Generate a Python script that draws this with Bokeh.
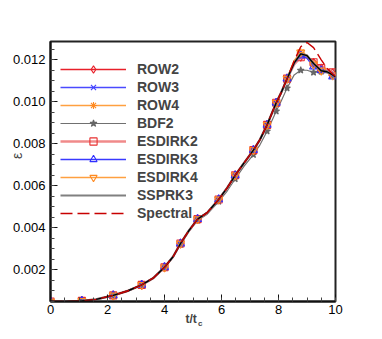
from bokeh.plotting import figure
from bokeh.models import Range1d, SingleIntervalTicker, Legend, LegendItem, Title, NumeralTickFormatter
from bokeh.embed import file_html
from bokeh.resources import INLINE

# ---------------- data ----------------
t = [0.0, 0.5, 1.1, 1.6, 2.2, 2.7, 3.2, 3.6, 4.0, 4.3, 4.56, 4.85, 5.16, 5.5, 5.9, 6.2,
     6.48, 6.8, 7.12, 7.35, 7.6, 7.92, 8.1, 8.3, 8.55, 8.78, 9.0, 9.23, 9.5, 9.7, 9.9, 10.0]

common = [0.00049, 0.00049, 0.00052, 0.00059, 0.00078, 0.00099, 0.00128, 0.00160,
          0.00212, 0.00262, 0.00325, 0.00385, 0.00441, 0.00472, 0.00535, 0.00590,
          0.00650, 0.00710, 0.00770, 0.00820, 0.00890, 0.00995, 0.01045, 0.01110]

row2 = common + [0.01180, 0.01215, 0.01212, 0.01185, 0.01158, 0.01152, 0.01135, 0.01120]
row3 = common + [0.01185, 0.01222, 0.01210, 0.01168, 0.01150, 0.01145, 0.01122, 0.01112]
row4 = common + [0.01195, 0.01236, 0.01222, 0.01180, 0.01148, 0.01145, 0.01125, 0.01115]
bdf2 = [0.00049, 0.00049, 0.00052, 0.00059, 0.00078, 0.00099, 0.00128, 0.00160,
        0.00212, 0.00260, 0.00320, 0.00380, 0.00435, 0.00465, 0.00525, 0.00575,
        0.00633, 0.00695, 0.00748, 0.00795, 0.00860, 0.00955, 0.01005, 0.01065,
        0.01128, 0.01150, 0.01150, 0.01140, 0.01144, 0.01138, 0.01125, 0.01118]
esdirk2 = common + [0.01178, 0.01212, 0.01210, 0.01188, 0.01160, 0.01155, 0.01140, 0.01122]
esdirk3 = common + [0.01183, 0.01220, 0.01208, 0.01167, 0.01150, 0.01146, 0.01120, 0.01112]
esdirk4 = common + [0.01193, 0.01235, 0.01220, 0.01178, 0.01149, 0.01145, 0.01126, 0.01116]
ssprk3 = common + [0.01185, 0.01228, 0.01220, 0.01182, 0.01148, 0.01143, 0.01128, 0.01118]
spectral = common + [0.01195, 0.01262, 0.01282, 0.01258, 0.01200, 0.01160, 0.01132, 0.01122]

marker_idx = [0, 2, 4, 6, 8, 10, 12, 14, 16, 18, 20, 21, 23, 25, 27, 28, 30]

x_ticks_interval = 2
y_ticks_interval = 0.002

# ---------------- figure ----------------
p = figure(frame_width=285, frame_height=260, output_backend="svg", toolbar_location=None,
           x_range=Range1d(0, 10), y_range=Range1d(0.00049, 0.01287),
           min_border_left=50, min_border_top=41, min_border_right=46, min_border_bottom=37)
p.grid.visible = False
p.outline_line_color = "#222222"
p.outline_line_width = 2
p.background_fill_color = "white"
p.border_fill_color = "white"

p.xaxis.ticker = SingleIntervalTicker(interval=x_ticks_interval, num_minor_ticks=4)
p.yaxis.ticker = SingleIntervalTicker(interval=y_ticks_interval, num_minor_ticks=4)
p.yaxis.formatter = NumeralTickFormatter(format="0.000")
for ax in (p.xaxis[0], p.yaxis[0]):
    ax.major_tick_in = 7
    ax.major_tick_out = 0
    ax.minor_tick_in = 4
    ax.minor_tick_out = 0
    ax.axis_line_width = 2
    ax.axis_line_color = "#111111"
    ax.major_tick_line_color = "#111111"
    ax.minor_tick_line_color = "#444444"
    ax.major_label_text_font = "Liberation Sans"
    ax.major_label_text_font_size = "13px"
    ax.major_label_text_color = "black"
p.yaxis.major_label_standoff = 5
p.xaxis.major_label_standoff = 3

# leading no-break spaces move the symbol up along the axis, as in the reference
p.yaxis.axis_label = "\u00a0" * 8 + "ε"
p.yaxis.axis_label_text_font = "Liberation Sans"
p.yaxis.axis_label_text_font_size = "14px"
p.yaxis.axis_label_text_font_style = "normal"
p.yaxis.axis_label_standoff = -15


def sel(vals):
    return [vals[i] for i in marker_idx]


tm = sel(t)
items = []

series = [
    ("ROW2", row2, "#e8202a", 1.5, "diamond", "#e8202a", 9),
    ("ROW3", row3, "#4a4aff", 1.5, "x", "#4040ff", 7),
    ("ROW4", row4, "#ffa040", 1.5, "asterisk", "#ff8a20", 8),
    ("BDF2", bdf2, "#707070", 1.2, "star", "#666666", 7),
    ("ESDIRK2", esdirk2, "#f08a8a", 2.4, "square", "#e83030", 7),
    ("ESDIRK3", esdirk3, "#3a3aff", 1.5, "triangle", "#3030ff", 8),
    ("ESDIRK4", esdirk4, "#ffa040", 1.5, "inverted_triangle", "#ff8a20", 8),
]

for name, vals, lc, lw, mk, mc, ms in series:
    ln = p.line(t, vals, line_color=lc, line_width=lw)
    fill = mc if mk == "star" else None
    sc = p.scatter(tm, sel(vals), marker=mk, size=ms, line_color=mc, fill_color=fill, line_width=1.1)
    items.append(LegendItem(label=name, renderers=[ln, sc]))

ss_under = p.line(t, ssprk3, line_color="#808080", line_width=2.2)
p.line(t, ssprk3, line_color="#000000", line_width=1.4)
items.append(LegendItem(label="SSPRK3", renderers=[ss_under]))
sp = p.line(t, spectral, line_color="#c80000", line_width=1.4, line_dash="12 5")
items.append(LegendItem(label="Spectral", renderers=[sp]))

legend = Legend(items=items, location=(10, 79), glyph_width=66, glyph_height=18, label_height=18,
                spacing=0, padding=0, margin=0, label_standoff=11,
                label_text_font="Liberation Sans", label_text_font_size="14px",
                label_text_font_style="bold", background_fill_alpha=0, border_line_alpha=0)
p.add_layout(legend)

# x-axis title "t/t" with subscript "c"
p.add_layout(Title(text="t/t", align="left", offset=135, vertical_align="top", standoff=-10,
                   text_font="Liberation Sans", text_font_size="12px", text_font_style="bold"), "below")
p.add_layout(Title(text="c", align="left", offset=147.5, vertical_align="top", standoff=-8,
                   text_font="Liberation Sans", text_font_size="8px", text_font_style="bold"), "below")

open("out.html", "w").write(file_html(p, INLINE))
